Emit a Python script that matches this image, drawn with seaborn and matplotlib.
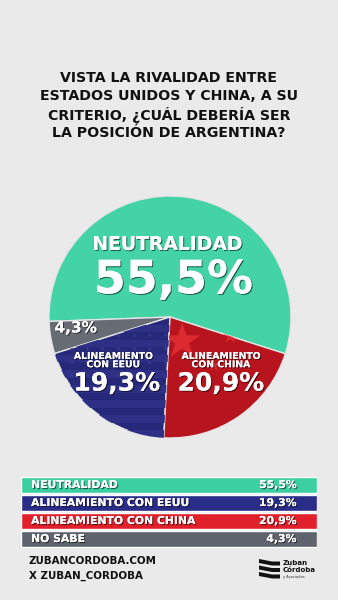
import numpy as np
import pandas as pd
import matplotlib
matplotlib.use("Agg")
import matplotlib.pyplot as plt
import matplotlib.patheffects as pe
from matplotlib.patches import Polygon
import seaborn as sns

# --- data -------------------------------------------------------------
title_lines = [
    "VISTA LA RIVALIDAD ENTRE",
    "ESTADOS UNIDOS Y CHINA, A SU",
    "CRITERIO, ¿CUÁL DEBERÍA SER",
    "LA POSICIÓN DE ARGENTINA?",
]
pie_labels = ["NEUTRALIDAD", "NO SABE", "ALINEAMIENTO CON EEUU", "ALINEAMIENTO CON CHINA"]
pie_values = [55.5, 4.3, 19.3, 20.9]
pie_colors = ["#43d3a4", "#676b74", "#26287a", "#b8141d"]

table_labels = ["NEUTRALIDAD", "ALINEAMIENTO CON EEUU", "ALINEAMIENTO CON CHINA", "NO SABE"]
table_values = [55.5, 19.3, 20.9, 4.3]
table_colors = ["#3ccf9f", "#2a2d88", "#e0202a", "#5f636d"]

footer_lines = ["ZUBANCORDOBA.COM", "X ZUBAN_CORDOBA"]


def pct(v):
    return f"{v:.1f}".replace(".", ",") + "%"


# --- style ------------------------------------------------------------
sns.set_theme(style="white")
FONT = ["DejaVu Sans"]
plt.rcParams["font.family"] = FONT
WT = "bold"

W, H = 338, 600
BG = "#eaeaea"
fig = plt.figure(figsize=(W / 100, H / 100), dpi=100, facecolor=BG)


def fx(x):
    return x / W


def fy(y):
    return 1 - y / H


shadow = [pe.withSimplePatchShadow(offset=(0.8, -0.8), shadow_rgbFace="black", alpha=0.55), pe.Normal()]

# --- title ------------------------------------------------------------
for i, line in enumerate(title_lines):
    fig.text(fx(169), fy(78 + i * 18.3), line, ha="center", va="center",
             fontsize=10.2, fontweight=WT, color="#111111")

# --- pie --------------------------------------------------------------
cx, cy, r = 170, 317, 121
ax = fig.add_axes([fx(cx - r), fy(cy + r), 2 * r / W, 2 * r / H])

wedges, _ = ax.pie(pie_values, colors=pie_colors, startangle=-17.7, counterclock=True,
                   radius=1, wedgeprops=dict(edgecolor="#e4e4e4", linewidth=1.0))
ax.set_xlim(-1, 1)
ax.set_ylim(-1, 1)
ax.set_aspect("equal")
ax.axis("off")

# flag texture: stripes and stars for the EEUU wedge
w_us = wedges[2]
for y0 in np.arange(-1.0, 0.0, 0.125):
    band = ax.axhspan(y0, y0 + 0.0625, xmin=0, xmax=1, color="#2d3085", lw=0, zorder=1.5)
    band.set_clip_path(w_us)
sx, sy = np.meshgrid(np.arange(-0.95, 0.0, 0.13), np.arange(-0.48, -0.1, 0.11))
st = ax.scatter(sx.ravel(), sy.ravel(), marker="*", s=14, color="#383b94", lw=0, zorder=1.6)
st.set_clip_path(w_us)

# stars on the CHINA wedge
w_cn = wedges[3]
st2 = ax.scatter([0.10, 0.50, 0.36], [-0.20, -0.16, -0.40], marker="*",
                 s=[750, 120, 90], color="#dc2a31", lw=0, zorder=1.6)
st2.set_clip_path(w_cn)

ax.text(-0.02, 0.60, pie_labels[0], ha="center", va="center", fontsize=13.5,
        fontweight=WT, color="white", path_effects=shadow, zorder=5)
ax.text(0.03, 0.30, pct(pie_values[0]), ha="center", va="center", fontsize=33,
        fontweight=WT, color="white", path_effects=shadow, zorder=5)
ax.text(-0.78, -0.09, pct(pie_values[1]), ha="center", va="center", fontsize=11,
        fontweight=WT, color="white", path_effects=shadow, zorder=5)
ax.text(-0.47, -0.36, "ALINEAMIENTO\nCON EEUU", ha="center", va="center", fontsize=6.7,
        fontweight=WT, color="white", linespacing=0.9, path_effects=shadow, zorder=5)
ax.text(-0.44, -0.55, pct(pie_values[2]), ha="center", va="center", fontsize=18,
        fontweight=WT, color="white", path_effects=shadow, zorder=5)
ax.text(0.42, -0.36, "ALINEAMIENTO\nCON CHINA", ha="center", va="center", fontsize=6.7,
        fontweight=WT, color="white", linespacing=0.9, path_effects=shadow, zorder=5)
ax.text(0.42, -0.55, pct(pie_values[3]), ha="center", va="center", fontsize=18,
        fontweight=WT, color="white", path_effects=shadow, zorder=5)

# --- summary table ----------------------------------------------------
tx0, tx1, ty0, ty1 = 21, 317, 476, 548
tax = fig.add_axes([fx(tx0), fy(ty1), (tx1 - tx0) / W, (ty1 - ty0) / H])
df = pd.DataFrame({"label": table_labels, "span": [1.0] * len(table_labels)})
sns.barplot(data=df, y="label", x="span", hue="label", palette=table_colors,
            orient="h", width=0.93, legend=False, ax=tax, saturation=1)
tax.set_xlim(0, 1)
tax.set_ylim(len(table_labels) - 0.5, -0.5)
tax.axis("off")
for i, (lab, val) in enumerate(zip(table_labels, table_values)):
    tax.text(0.034, i, lab, ha="left", va="center", fontsize=7.8, fontweight=WT,
             color="white", path_effects=shadow)
    tax.text(0.932, i, pct(val), ha="right", va="center", fontsize=7.8, fontweight=WT,
             color="white", path_effects=shadow)

# --- footer -----------------------------------------------------------
for i, line in enumerate(footer_lines):
    fig.text(fx(29), fy(561 + i * 14.5), line, ha="left", va="center",
             fontsize=7.4, fontweight=WT, color="#111111")

# brand mark
for k in range(3):
    y = 559 + k * 6.5
    pts = [(259, y), (272, y + 2.5), (280, y + 2.5), (280, y + 6.5), (272, y + 6.5), (259, y + 4)]
    fig.patches.append(Polygon([(fx(a), fy(b)) for a, b in pts], closed=True,
                               transform=fig.transFigure, facecolor="#111111", lw=0))
fig.text(fx(283), fy(563), "Zuban", ha="left", va="center", fontsize=5,
         fontweight="bold", color="#111111")
fig.text(fx(283), fy(570.5), "Córdoba", ha="left", va="center", fontsize=5,
         fontweight="bold", color="#111111")
fig.text(fx(283), fy(577), "y Asociados", ha="left", va="center", fontsize=2.6,
         color="#333333")

fig.savefig("out.png", dpi=100, facecolor=BG)
